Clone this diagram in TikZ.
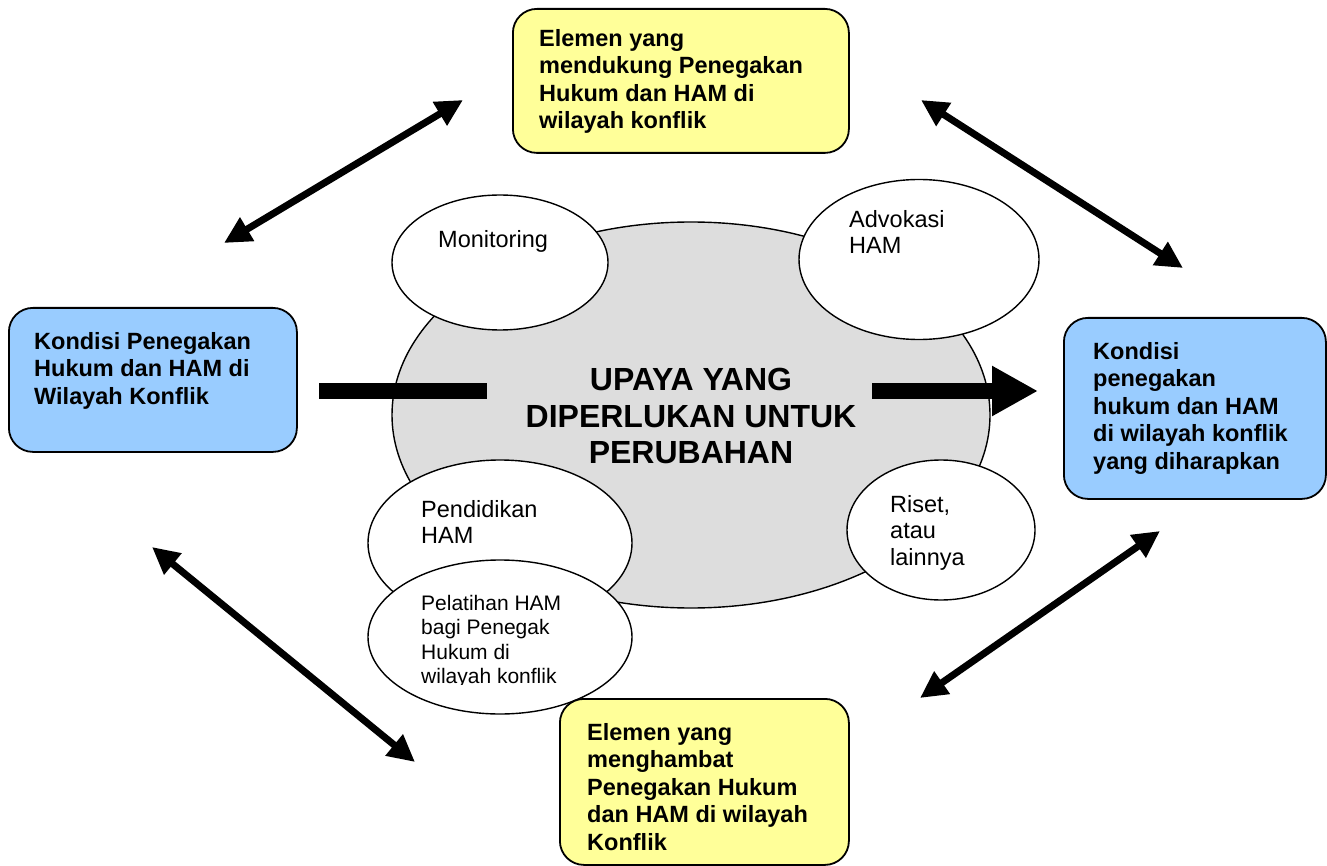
\documentclass[tikz,border=0pt]{standalone}
\usepackage{fontspec}
\setmainfont{Liberation Sans}
\usetikzlibrary{arrows.meta,shapes.geometric}
\definecolor{byellow}{HTML}{FFFF99}
\definecolor{bblue}{HTML}{99CCFF}
\definecolor{egray}{HTML}{DDDDDD}
\begin{document}
\begin{tikzpicture}[x=1pt,y=-1pt,
  box/.style={draw, line width=1.8pt, rounded corners=24pt, anchor=north west, inner sep=0pt},
  ybox/.style={box, fill=byellow},
  bbox/.style={box, fill=bblue},
  btext/.style={anchor=north west, inner sep=0pt, align=left, font=\bfseries\fontsize{23.5}{27.5}\selectfont},
  oval/.style={draw, line width=1.4pt, fill=white, shape=ellipse, inner sep=0pt},
  etext/.style={anchor=north west, inner sep=0pt, align=left, font=\fontsize{23.5}{26.5}\selectfont},
  stext/.style={anchor=north west, inner sep=0pt, align=left, font=\fontsize{21}{24.5}\selectfont},
  dbl/.style={{Triangle[length=27pt,width=26pt]}-{Triangle[length=27pt,width=26pt]}, line width=7pt},
  bar/.style={line width=16pt}
]
\useasboundingbox (0,0) rectangle (1327,866);

% central ellipse
\node[oval, fill=egray, minimum width=598pt, minimum height=386pt] (core) at (691,415) {};
\node[align=center, inner sep=0pt, font=\bfseries\fontsize{32}{36.5}\selectfont] (coretext) at (691,416) {UPAYA YANG\\DIPERLUKAN UNTUK\\PERUBAHAN};

% small ellipses
\node[oval, minimum width=216pt, minimum height=135pt] (mon) at (500,262.5) {};
\node[etext] (montext) at (438,230) {Monitoring};

\node[oval, minimum width=240pt, minimum height=160pt] (adv) at (919,259.5) {};
\node[etext] (advtext) at (849,210) {Advokasi\\HAM};

\node[oval, minimum width=264pt, minimum height=166pt] (pend) at (500,543) {};
\node[etext] (pendtext) at (421,500) {Pendidikan\\HAM};

\node[oval, minimum width=264pt, minimum height=154pt] (pel) at (500,637) {};
\begin{scope}
  \clip (360,560) rectangle (640,684);
  \node[stext] (peltext) at (421,595) {Pelatihan HAM\\bagi Penegak\\Hukum di\\wilayah konflik};
\end{scope}

\node[oval, minimum width=188pt, minimum height=140pt] (riset) at (941,530) {};
\node[etext] (risettext) at (890,495) {Riset,\\atau\\lainnya};

% boxes
\node[ybox, minimum width=336pt, minimum height=144pt] (top) at (512,8) {};
\node[btext] (toptext) at (539,29) {Elemen yang\\mendukung Penegakan\\Hukum dan HAM di\\wilayah konflik};

\node[bbox, minimum width=288pt, minimum height=144pt] (left) at (8,307) {};
\node[btext] (lefttext) at (34,332) {Kondisi Penegakan\\Hukum dan HAM di\\Wilayah Konflik};

\node[bbox, minimum width=262pt, minimum height=181pt] (right) at (1063,317) {};
\node[btext] (righttext) at (1093,342) {Kondisi\\penegakan\\hukum dan HAM\\di wilayah konflik\\yang diharapkan};

\node[ybox, minimum width=289pt, minimum height=166pt] (bot) at (559,698) {};
\node[btext] (bottext) at (587,723) {Elemen yang\\menghambat\\Penegakan Hukum\\dan HAM di wilayah\\Konflik};

% thick bars
\coordinate (barLa) at (319,391);
\coordinate (barLb) at (487,391);
\draw[bar] (barLa) -- (barLb);
\coordinate (barRa) at (872,391);
\coordinate (barRb) at (1038,391);
\draw[bar, -{Triangle[length=46pt,width=47pt]}] (barRa) -- (barRb);

% double arrows
\coordinate (tl1) at (224,243);
\coordinate (tl2) at (463,100);
\draw[dbl] (tl1) -- (tl2);
\coordinate (tr1) at (921,100);
\coordinate (tr2) at (1183,268);
\draw[dbl] (tr1) -- (tr2);
\coordinate (br1) at (920,698);
\coordinate (br2) at (1160,531);
\draw[dbl] (br1) -- (br2);
\coordinate (bl1) at (152,547);
\coordinate (bl2) at (415,762);
\draw[dbl] (bl1) -- (bl2);
\end{tikzpicture}
\end{document}
